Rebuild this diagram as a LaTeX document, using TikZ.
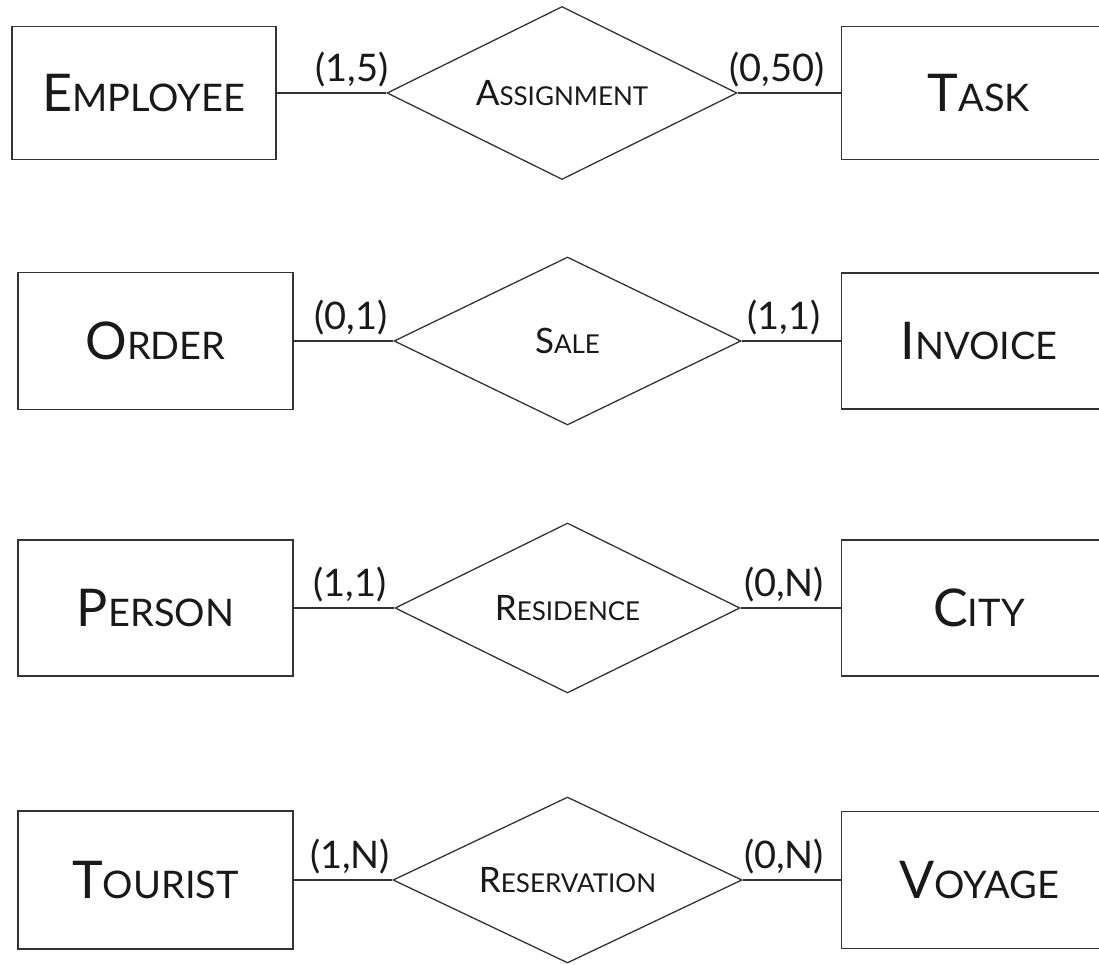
\documentclass[tikz,border=0pt]{standalone}
\usepackage{fontspec}
\setmainfont{Lato}
\usetikzlibrary{shapes.geometric}

% hand-made small capitals: large initial, smaller remaining capitals
\newcommand\entname[2]{{\fontsize{52}{52}\selectfont #1}{\fontsize{38}{38}\selectfont #2}}
\newcommand\relname[2]{{\fontsize{35}{35}\selectfont #1}{\fontsize{26}{26}\selectfont #2}}

\tikzset{
  entity/.style={draw=black!80, line width=1.3pt, rectangle, inner sep=0pt,
                 minimum width=275pt, minimum height=135pt, text=black!90},
  relation/.style={draw=black!80, line width=1.3pt, diamond, aspect=2, inner sep=0pt,
                   text=black!90},
  card/.style={anchor=south, inner sep=0pt, text=black!90,
               font=\fontsize{38}{38}\selectfont},
  link/.style={draw=black!80, line width=1.3pt}
}

\begin{document}
\begin{tikzpicture}[x=1pt,y=-1pt]
\useasboundingbox (0,0) rectangle (1099,965);

% Employee -- Assignment -- Task
\node[entity, minimum width=264pt, minimum height=133pt] (emp) at (144,93) {\entname{E}{MPLOYEE}};
\node[relation, minimum width=350pt, minimum height=173pt] (asg) at (562,93) {\relname{A}{SSIGNMENT}};
\node[entity, minimum height=133pt] (task) at (979,93) {\entname{T}{ASK}};
\draw[link] (emp.east) -- (asg.west);
\draw[link] (asg.east) -- (task.west);
\node[card] (c1a) at (352,87) {(1,5)};
\node[card] (c1b) at (777,87) {(0,50)};

% Order -- Sale -- Invoice
\node[entity, minimum height=137pt] (ord) at (155.5,341) {\entname{O}{RDER}};
\node[relation, minimum width=347pt, minimum height=168pt] (sale) at (567.5,341) {\relname{S}{ALE}};
\node[entity, minimum height=136pt] (inv) at (979,341) {\entname{I}{NVOICE}};
\draw[link] (ord.east) -- (sale.west);
\draw[link] (sale.east) -- (inv.west);
\node[card] (c2a) at (351,335) {(0,1)};
\node[card] (c2b) at (784,335) {(1,1)};

% Person -- Residence -- City
\node[entity, minimum height=136pt] (per) at (155.5,608) {\entname{P}{ERSON}};
\node[relation, minimum width=345pt, minimum height=170pt] (res) at (567.5,608) {\relname{R}{ESIDENCE}};
\node[entity, minimum height=136pt] (city) at (979,608) {\entname{C}{ITY}};
\draw[link] (per.east) -- (res.west);
\draw[link] (res.east) -- (city.west);
\node[card] (c3a) at (350,602) {(1,1)};
\node[card] (c3b) at (784,602) {(0,N)};

% Tourist -- Reservation -- Voyage
\node[entity, minimum height=138pt] (tour) at (155.5,880) {\entname{T}{OURIST}};
\node[relation, minimum width=349pt, minimum height=166pt] (resv) at (567.5,880) {\relname{R}{ESERVATION}};
\node[entity, minimum height=137pt] (voy) at (979,880) {\entname{V}{OYAGE}};
\draw[link] (tour.east) -- (resv.west);
\draw[link] (resv.east) -- (voy.west);
\node[card] (c4a) at (350,874) {(1,N)};
\node[card] (c4b) at (784,874) {(0,N)};
\end{tikzpicture}
\end{document}
